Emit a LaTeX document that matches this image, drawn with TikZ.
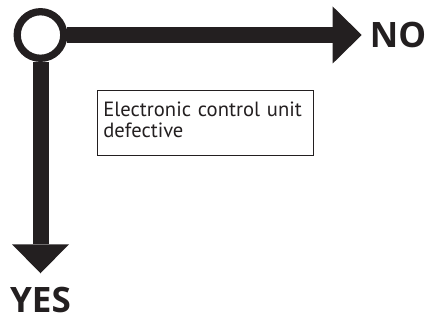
\documentclass[tikz,border=0pt]{standalone}
\usepackage{fontspec}
\setmainfont{PT Sans}
\newfontfamily\answerfont{Open Sans}
\usetikzlibrary{arrows.meta}
\definecolor{ink}{HTML}{231F20}
\tikzset{
  decision/.style={
    circle,
    draw=ink,
    line width=7.3pt,
    fill=white,
    minimum size=46.6pt,
    inner sep=0pt
  },
  flow/.style={draw=ink, line width=16pt, -{Triangle[length=29pt,width=57pt,line width=0pt]}},
  answer/.style={font=\answerfont\fontsize{35}{35}\selectfont\bfseries, text=ink, inner sep=0pt},
  action/.style={
    draw=ink,
    line width=1.3pt,
    text=ink,
    anchor=north west,
    text width=204pt,
    text depth=27pt,
    minimum height=64.7pt,
    inner xsep=6pt,
    align=left,
    font=\fontsize{20.6}{21}\selectfont
  },
}

\begin{document}
\begin{tikzpicture}[x=1pt,y=-1pt]
  \useasboundingbox (0,0) rectangle (428,320);
  \node[decision] (dec) at (40.5,35) {};
  \node[answer, anchor=west] (no) at (369.7,35) {NO};
  \node[answer] (yes) at (40.5,300.3) {YES};
  \node[action] (ecu) at (96.7,90) {Electronic control unit defective};
  \draw[flow, shorten >=8pt] (dec) -- (no);
  \draw[flow, shorten >=14pt] (dec) -- (yes);
\end{tikzpicture}
\end{document}
